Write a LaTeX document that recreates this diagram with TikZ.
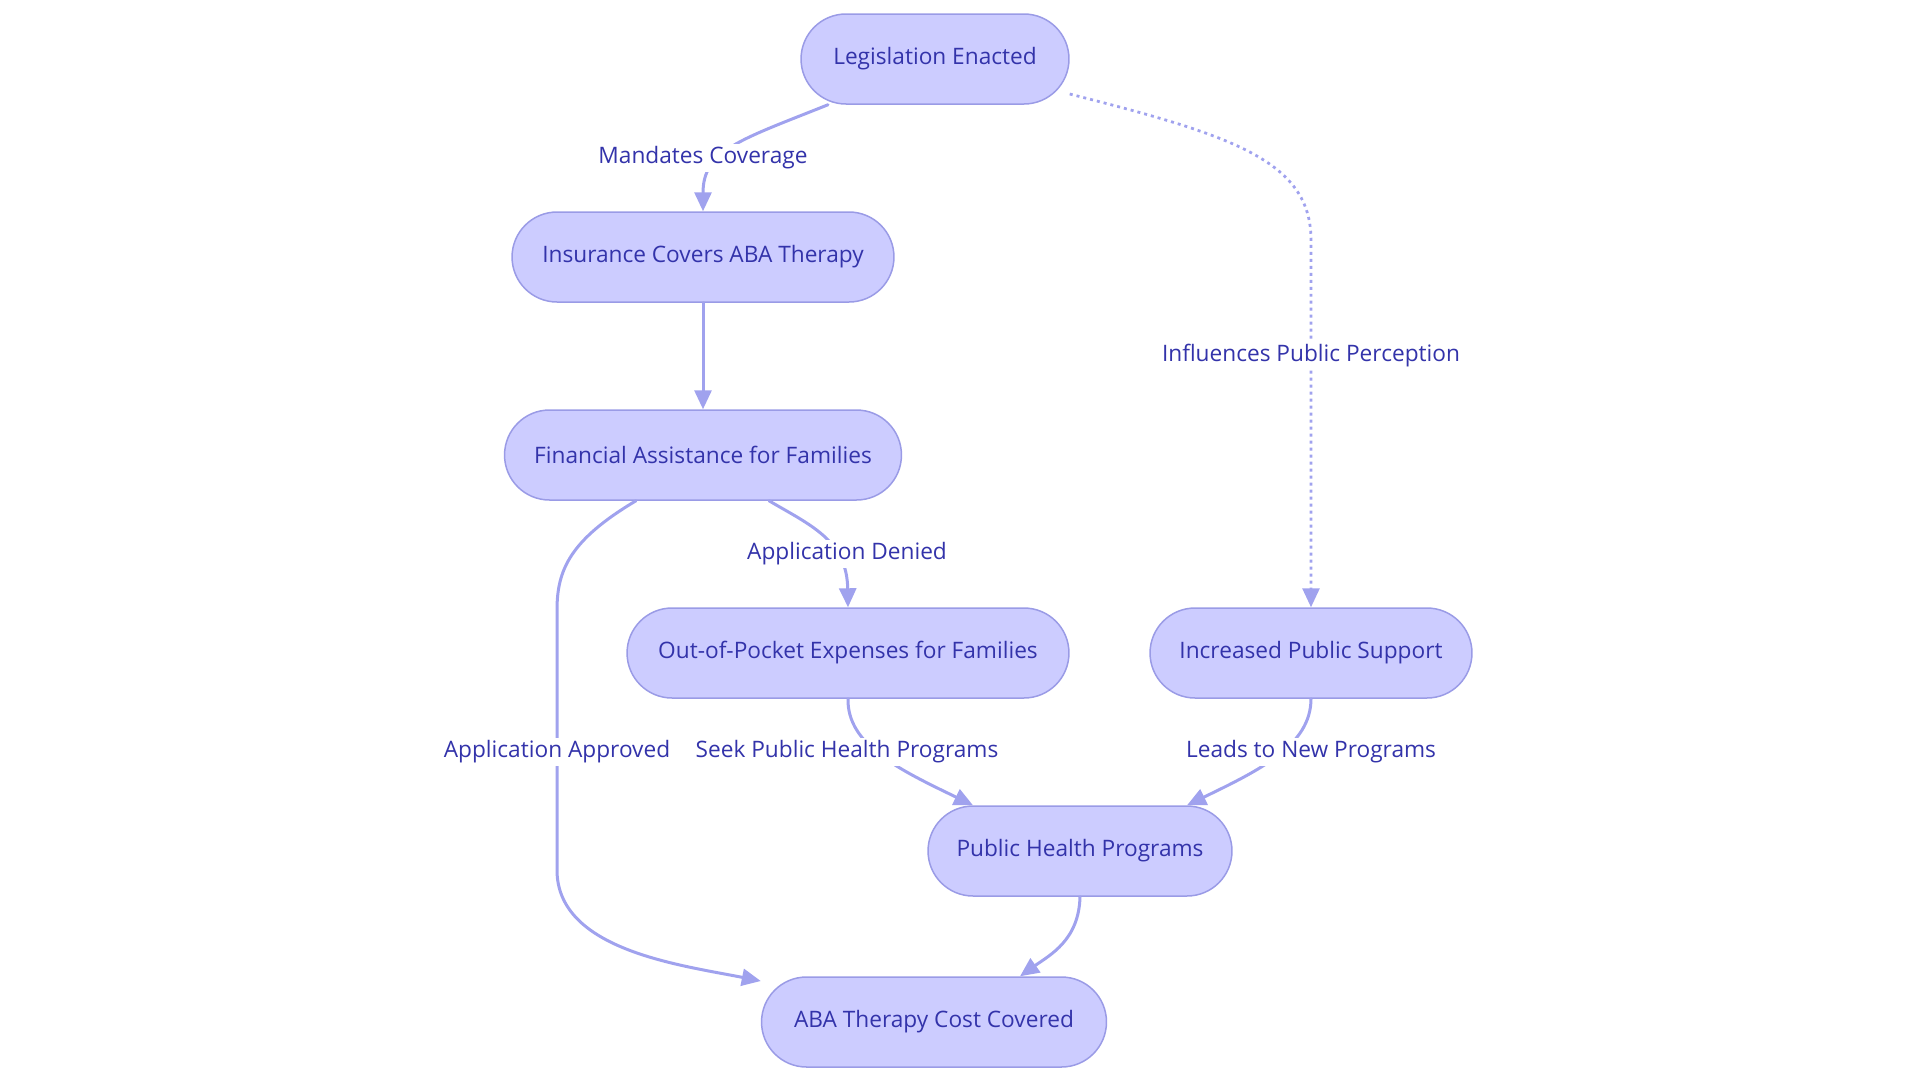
\documentclass[tikz,border=0pt]{standalone}
\usepackage{fontspec}
\setmainfont{Open Sans}
\usetikzlibrary{arrows.meta,shapes.misc,calc}
\definecolor{boxfill}{HTML}{CCCCFF}
\definecolor{boxline}{HTML}{9A9BE6}
\definecolor{linkcol}{HTML}{A0A2EE}
\definecolor{inkblue}{HTML}{3333AA}
\begin{document}
\begin{tikzpicture}[x=0.02cm, y=-0.02cm, line cap=round, line join=round,
  box/.style={rounded rectangle, draw=boxline, fill=boxfill, line width=0.03cm,
    minimum height=1.8cm, inner xsep=0pt, text=inkblue, font=\fontsize{12.9}{15}\selectfont},
  lbl/.style={fill=white, text=inkblue, inner sep=1.5pt, font=\fontsize{12.9}{15}\selectfont},
  link/.style={draw=linkcol, line width=0.06cm, -{Triangle[length=0.38cm,width=0.34cm]}},
  hint/.style={link, line width=0.055cm, line cap=butt, dash pattern=on 0.06cm off 0.08cm}]
  \useasboundingbox (0,0) rectangle (1920,1080);

  \node[box, minimum width=5.36cm] (leg)  at (935,59)   {Legislation Enacted};
  \node[box, minimum width=7.64cm] (ins)  at (703,257)  {Insurance Covers ABA Therapy};
  \node[box, minimum width=7.94cm] (fin)  at (703,455)  {Financial Assistance for Families};
  \node[box, minimum width=8.84cm] (oop)  at (848,653)  {Out-of-Pocket Expenses for Families};
  \node[box, minimum width=6.44cm] (ips)  at (1311,653) {Increased Public Support};
  \node[box, minimum width=6.08cm] (ph)   at (1080,851) {Public Health Programs};
  \node[box, minimum width=6.90cm] (cost) at (934,1022) {ABA Therapy Cost Covered};

  \draw[link] ($(leg.south)+(-107,0)$) .. controls (740,140) and (703,150) .. (ins.north);
  \draw[hint] ($(leg.east)+(0,35)$) .. controls (1230,135) and (1311,160) .. (1311,240) -- (ips.north);
  \draw[link] (ins.south) -- (fin.north);
  \draw[link] ($(fin.south)+(66,0)$) .. controls (810,525) and (847,540) .. (oop.north);
  \draw[link] ($(fin.south)+(-67,0)$) .. controls (570,540) and (557,570) .. (557,610)
    -- (557,870) .. controls (557,950) and (680,965) .. ($(cost.west)+(0,-41)$);
  \draw[link] (oop.south) .. controls (847,745) and (900,770) .. ($(ph.north)+(-107,0)$);
  \draw[link] (ips.south) .. controls (1311,745) and (1260,770) .. ($(ph.north)+(107,0)$);
  \draw[link] (ph.south) .. controls (1079,940) and (1050,955) .. ($(cost.north)+(86,0)$);

  \node[lbl] (lmand) at (703,158)  {Mandates Coverage};
  \node[lbl] (linfl) at (1311,356) {Influences Public Perception};
  \node[lbl] (ldeny) at (847,554)  {Application Denied};
  \node[lbl] (lappr) at (557,752)  {Application Approved};
  \node[lbl] (lseek) at (847,752)  {Seek Public Health Programs};
  \node[lbl] (llead) at (1311,752) {Leads to New Programs};
\end{tikzpicture}
\end{document}
